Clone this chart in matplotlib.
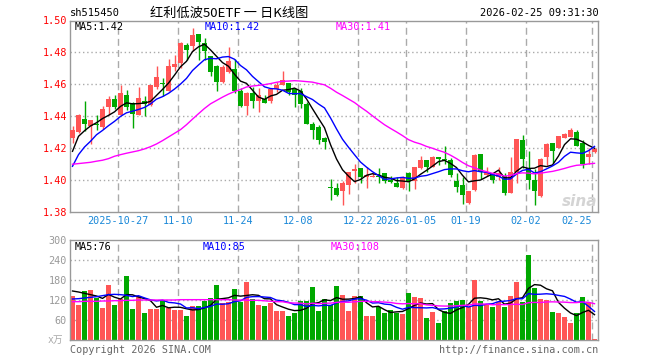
import matplotlib
matplotlib.use("Agg")
import matplotlib.pyplot as plt
import numpy as np
import pandas as pd

plt.rcParams['font.family'] = ['DejaVu Sans Mono', 'Noto Sans CJK SC']

# daily K data, 88 trading days
opens = [1.4265, 1.4300, 1.4383, 1.4335, 1.4348, 1.4329, 1.4458, 1.4508, 1.4410, 1.4533,
         1.4483, 1.4408, 1.4496, 1.4467, 1.4583, 1.4610, 1.4558, 1.4708, 1.4733, 1.4846,
         1.4838, 1.4917, 1.4856, 1.4779, 1.4717, 1.4617, 1.4679, 1.4696, 1.4558, 1.4465,
         1.4546, 1.4496, 1.4508, 1.4496, 1.4571, 1.4596, 1.4608, 1.4571, 1.4558, 1.4477,
         1.4352, 1.4333, 1.4265, 1.3952, 1.3946, 1.3927, 1.3967, 1.4054, 1.4075, 1.4015,
         1.4017, 1.4027, 1.4046, 1.4002, 1.3983, 1.3946, 1.4046, 1.3990, 1.4073, 1.4127,
         1.4083, 1.4146, 1.4129, 1.4127, 1.3990, 1.3965, 1.3854, 1.3935, 1.4165, 1.4033,
         1.4040, 1.4015, 1.4021, 1.3917, 1.4052, 1.4252, 1.4077, 1.3996, 1.3896, 1.4146,
         1.4233, 1.4202, 1.4265, 1.4267, 1.4302, 1.4233, 1.4146, 1.4173]
highs = [1.4335, 1.4415, 1.4496, 1.4375, 1.4406, 1.4463, 1.4527, 1.4533, 1.4596, 1.4565,
         1.4490, 1.4581, 1.4527, 1.4596, 1.4717, 1.4640, 1.4758, 1.4783, 1.4865, 1.4858,
         1.4956, 1.4917, 1.4890, 1.4779, 1.4723, 1.4721, 1.4833, 1.4758, 1.4577, 1.4552,
         1.4583, 1.4577, 1.4533, 1.4577, 1.4615, 1.4685, 1.4608, 1.4577, 1.4577, 1.4490,
         1.4365, 1.4346, 1.4271, 1.4008, 1.3977, 1.3990, 1.4052, 1.4102, 1.4075, 1.4079,
         1.4046, 1.4077, 1.4046, 1.4021, 1.4015, 1.4021, 1.4052, 1.4083, 1.4152, 1.4127,
         1.4152, 1.4146, 1.4215, 1.4140, 1.4046, 1.4015, 1.3931, 1.4165, 1.4165, 1.4083,
         1.4046, 1.4083, 1.4046, 1.4146, 1.4258, 1.4283, 1.4183, 1.4071, 1.4140, 1.4233,
         1.4233, 1.4277, 1.4296, 1.4327, 1.4315, 1.4252, 1.4202, 1.4202]
lows = [1.4233, 1.4294, 1.4306, 1.4223, 1.4310, 1.4317, 1.4410, 1.4442, 1.4406, 1.4440,
        1.4327, 1.4406, 1.4402, 1.4463, 1.4571, 1.4527, 1.4556, 1.4681, 1.4702, 1.4752,
        1.4810, 1.4754, 1.4752, 1.4654, 1.4560, 1.4608, 1.4671, 1.4546, 1.4460, 1.4408,
        1.4452, 1.4427, 1.4481, 1.4483, 1.4552, 1.4596, 1.4533, 1.4458, 1.4452, 1.4348,
        1.4256, 1.4227, 1.4194, 1.3873, 1.3898, 1.3840, 1.3910, 1.3977, 1.3977, 1.3948,
        1.4015, 1.3977, 1.3977, 1.3981, 1.3956, 1.3940, 1.3927, 1.3940, 1.4067, 1.4052,
        1.4081, 1.4096, 1.4098, 1.4015, 1.3921, 1.3848, 1.3848, 1.3931, 1.4008, 1.4021,
        1.3977, 1.3996, 1.3902, 1.3915, 1.3977, 1.4077, 1.3940, 1.3844, 1.3890, 1.4096,
        1.4108, 1.4202, 1.4265, 1.4267, 1.4215, 1.4077, 1.4102, 1.4169]
closes = [1.4315, 1.4408, 1.4348, 1.4375, 1.4346, 1.4446, 1.4508, 1.4458, 1.4546, 1.4458,
          1.4415, 1.4515, 1.4477, 1.4596, 1.4646, 1.4602, 1.4715, 1.4727, 1.4858, 1.4817,
          1.4908, 1.4863, 1.4810, 1.4679, 1.4617, 1.4710, 1.4748, 1.4558, 1.4465, 1.4546,
          1.4496, 1.4533, 1.4485, 1.4571, 1.4596, 1.4627, 1.4552, 1.4533, 1.4477, 1.4352,
          1.4315, 1.4252, 1.4238, 1.3948, 1.3902, 1.3977, 1.4052, 1.4065, 1.4015, 1.4033,
          1.4027, 1.4015, 1.3990, 1.3985, 1.3958, 1.4015, 1.3990, 1.4083, 1.4127, 1.4083,
          1.4146, 1.4133, 1.4123, 1.4029, 1.3954, 1.3902, 1.3927, 1.4158, 1.4052, 1.4052,
          1.3996, 1.4046, 1.3917, 1.4052, 1.4258, 1.4133, 1.3996, 1.3927, 1.4133, 1.4227,
          1.4183, 1.4277, 1.4285, 1.4315, 1.4215, 1.4102, 1.4165, 1.4194]
volumes = [132, 105, 147, 150, 126, 96, 165, 105, 123, 192,
           93, 132, 81, 92, 93, 120, 97, 90, 90, 72,
           102, 102, 116, 126, 165, 112, 114, 153, 114, 175,
           123, 105, 102, 112, 88, 88, 72, 81, 117, 117,
           159, 87, 123, 105, 162, 135, 88, 132, 132, 72,
           72, 98, 81, 90, 81, 78, 141, 129, 126, 66,
           84, 51, 87, 111, 118, 120, 98, 180, 117, 108,
           99, 115, 99, 132, 174, 114, 255, 156, 123, 120,
           84, 81, 69, 51, 81, 130, 115, 3]

# moving-average values at the left edge (history before the window)
ma5_head = [1.4179, 1.4273, 1.4308, 1.4338]
ma10_head = [1.4085, 1.4158, 1.4206, 1.4242, 1.4283, 1.4310, 1.4340, 1.4367, 1.4398]
ma30_head = [1.4098, 1.4102, 1.4106, 1.4110, 1.4117, 1.4123, 1.4133, 1.4148, 1.4158, 1.4167,
             1.4175, 1.4183, 1.4194, 1.4208, 1.4225, 1.4246, 1.4269, 1.4292, 1.4315, 1.4346,
             1.4381, 1.4415, 1.4448, 1.4477, 1.4498, 1.4519, 1.4538, 1.4554, 1.4567]
vma5_head = [147, 144, 140, 136]
vma10_head = [123, 124, 126, 128, 130, 133, 136, 137, 136]
vma30_head = [115, 115, 116, 116, 116, 117, 117, 118, 118, 119,
              119, 120, 120, 120, 120, 120, 120, 120, 121, 121,
              121, 121, 121, 121, 121, 121, 121, 120, 120]

date_idx = [8, 18, 28, 38, 48, 56, 66, 76, 87]
date_labels = ["2025-10-27", "11-10", "11-24", "12-08", "12-22", "2026-01-05", "01-19", "02-02", "02-25"]
price_ticks = [1.38, 1.40, 1.42, 1.44, 1.46, 1.48, 1.50]
vol_ticks = [60, 120, 180, 240, 300]


def ma(values, w, head):
    s = pd.Series(values, dtype=float).rolling(w).mean().to_numpy()
    s[:len(head)] = head
    return s


RED = '#ff5555'
GREEN = '#00a800'
GRID = '#aaaaaa'
W, H = 660, 360

o = np.array(opens)
c = np.array(closes)
n = len(c)
x = np.arange(n)
cols = np.where(c >= o, RED, GREEN)


def box(l, t, r, b):
    return [l / W, 1 - b / H, (r - l) / W, (b - t) / H]


def ftext(px, py, s, **kw):
    fig.text(px / W, 1 - py / H, s, **kw)


fig = plt.figure(figsize=(6.6, 3.6), dpi=100)
ax1 = fig.add_axes(box(70, 20.5, 598, 211.7))
ax2 = fig.add_axes(box(70, 240, 598, 340))

off = 2.5 / 6
for ax in (ax1, ax2):
    ax.set_xlim(-off, n - off)
    for sp in ax.spines.values():
        sp.set_color('#999999')
        sp.set_linewidth(1)
    ax.set_xticks([])
    ax.tick_params(axis='y', length=0, pad=2.2, labelsize=7.3)
    for d in date_idx:
        ax.axvline(d - off, color=GRID, lw=1, dashes=(5, 3), zorder=0)

# price panel
ax1.set_ylim(1.38, 1.50)
for lv in [1.40, 1.42, 1.44, 1.46, 1.48]:
    ax1.axhline(lv, color=GRID, lw=1, dashes=(1, 2), zorder=0)
ax1.vlines(x, lows, highs, colors=cols, lw=1, zorder=2)
ax1.bar(x, np.maximum(np.abs(c - o), 0.0005), bottom=np.minimum(o, c), width=5 / 6,
        color=cols, linewidth=0, zorder=3)
ax1.plot(x, ma(closes, 5, ma5_head), color='black', lw=1, zorder=4)
ax1.plot(x, ma(closes, 10, ma10_head), color='#0000ff', lw=1, zorder=4)
ax1.plot(x, ma(closes, 30, ma30_head), color='#ff00ff', lw=1, zorder=4)
ax1.set_yticks(price_ticks)
ax1.set_yticklabels(["%.2f" % t for t in price_ticks], color='#ff0000')

# volume panel
ax2.set_ylim(0, 300)
for lv in [60, 120, 180, 240]:
    ax2.axhline(lv, color=GRID, lw=1, dashes=(1, 2), zorder=0)
ax2.bar(x, volumes, width=5 / 6, color=cols, linewidth=0, zorder=2)
ax2.plot(x, ma(volumes, 5, vma5_head), color='black', lw=1, zorder=4)
ax2.plot(x, ma(volumes, 10, vma10_head), color='#0000ff', lw=1, zorder=4)
ax2.plot(x, ma(volumes, 30, vma30_head), color='#ff00ff', lw=1, zorder=4)
ax2.set_yticks(vol_ticks)
ax2.set_yticklabels([str(t) for t in vol_ticks], color='#999999')

# header
ftext(70, 13, "sh515450", fontsize=7.5, va='center')
ftext(150, 13, "红利低波50ETF 一 日K线图", fontsize=9.5, va='center',
      family=['Noto Sans CJK SC', 'DejaVu Sans'])
ftext(599, 13, "2026-02-25 09:31:30", fontsize=7.5, va='center', ha='right')

# MA legends
ftext(75, 27, "MA5:1.42", fontsize=7.3, va='center', color='black')
ftext(205, 27, "MA10:1.42", fontsize=7.3, va='center', color='#0000ff')
ftext(336, 27, "MA30:1.41", fontsize=7.3, va='center', color='#ff00ff')
ftext(75, 247, "MA5:76", fontsize=7.3, va='center', color='black')
ftext(203, 247, "MA10:85", fontsize=7.3, va='center', color='#0000ff')
ftext(331, 247, "MA30:108", fontsize=7.3, va='center', color='#ff00ff')

# date labels
for d, lab in zip(date_idx, date_labels):
    px = 70 + 6 * d
    if d == date_idx[-1]:
        ftext(px, 221, lab, fontsize=7.3, color='#1a88d8', va='center', ha='right')
    else:
        ftext(px, 221, lab, fontsize=7.3, color='#1a88d8', va='center', ha='center')

ftext(63, 340, "x万", fontsize=7, color='#aaaaaa', va='center', ha='right')
ftext(70, 350, "Copyright 2026 SINA.COM", fontsize=7.3, color='#666666', va='center')
ftext(598, 350, "http://finance.sina.com.cn", fontsize=7.3, color='#666666', va='center', ha='right')
ftext(597, 201, "sina", fontsize=11, color='#d4d4d4', va='center', ha='right',
      style='italic', weight='bold', family='DejaVu Sans')

fig.savefig("out.png", dpi=100)
